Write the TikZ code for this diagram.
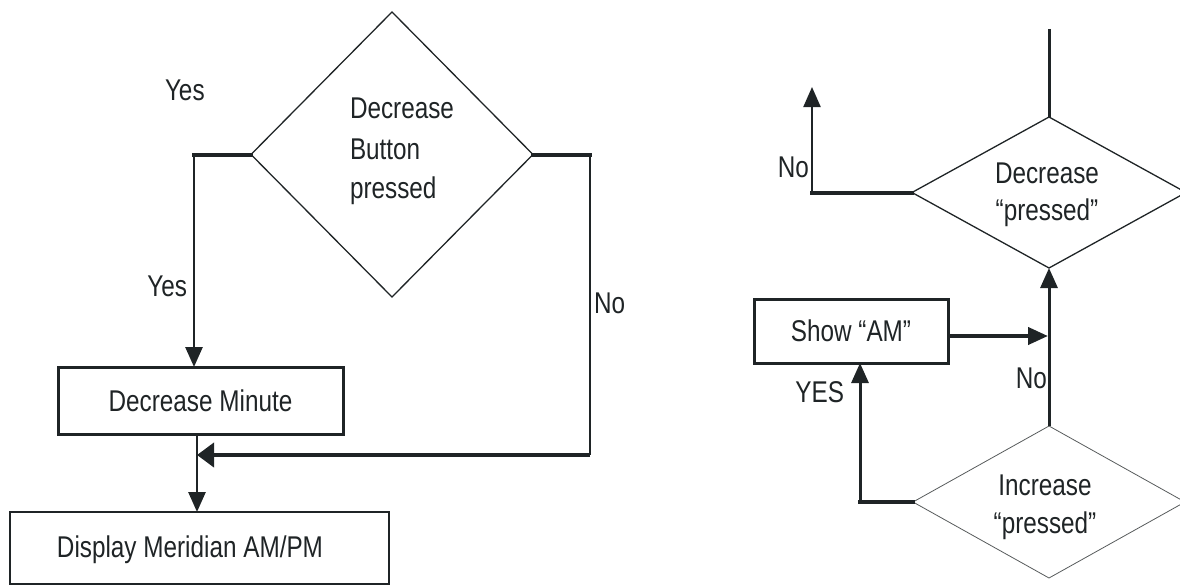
\documentclass[tikz,border=0pt]{standalone}
\usepackage{fontspec}
\setmainfont{Liberation Sans}[FakeStretch=0.81]
\usetikzlibrary{shapes.geometric,arrows.meta}
\definecolor{ink}{RGB}{31,36,38}
\begin{document}
\begin{tikzpicture}[x=1pt,y=-1pt,
  font=\fontsize{30}{38}\selectfont,
  dec/.style={draw=ink, shape=diamond, inner sep=0pt, outer sep=0pt, line width=1.3pt},
  box/.style={draw=ink, rectangle, inner sep=0pt, outer sep=0pt, line width=3pt, text=ink},
  lbl/.style={inner sep=0pt, outer sep=0pt, text=ink},
  conn/.style={draw=ink, line width=2.7pt},
  heavy/.style={draw=ink, line width=4pt},
  tip/.style={-{Triangle[length=20pt,width=17pt]}},
  widetip/.style={-{Triangle[length=17pt,width=24pt]}}]
\useasboundingbox (0,0) rectangle (1180,586);
\clip (0,0) rectangle (1180,586);

% ---- left part ----
\node[dec, minimum width=282pt, minimum height=285pt] (d1) at (392,154.5) {};
\node[lbl, anchor=base west] (d1a) at (350,118) {Decrease};
\node[lbl, anchor=base west] (d1b) at (350,159) {Button};
\node[lbl, anchor=base west] (d1c) at (350,198) {pressed};

\node[box, minimum width=285pt, minimum height=67pt] (dm) at (200.5,400.5) {Decrease Minute};
\node[box, line width=2.3pt, minimum width=379pt, minimum height=72pt] (disp) at (199.5,548) {};
\node[lbl, anchor=base] (dtext) at (190,557) {Display Meridian AM/PM};

\coordinate (ya) at (194,154.5);
\coordinate (mg) at (197,455);
\coordinate (nr) at (590,154.5);

\draw[heavy, line cap=rect] (d1.west) -- (ya);
\draw[conn, tip] (ya) -- (ya |- dm.north);
\draw[conn, tip] (mg |- dm.south) -- (mg |- disp.north);
\draw[heavy, line cap=rect] (d1.east) -- (nr);
\draw[conn] (nr) -- (nr |- mg);
\draw[heavy, widetip] (nr |- mg) -- (mg);

\node[lbl, anchor=base west] (y1) at (165,100) {Yes};
\node[lbl, anchor=base east] (y2) at (187,296) {Yes};
\node[lbl, anchor=base west] (n1) at (594,313) {No};

% ---- right part ----
\node[dec, minimum width=274pt, minimum height=151pt] (d2) at (1049,192.5) {};
\node[lbl, anchor=base] (d2a) at (1047,183) {Decrease};
\node[lbl, anchor=base] (d2b) at (1047,220) {“pressed”};

\node[dec, draw=ink!75, line width=0.8pt, minimum width=272pt, minimum height=152pt] (d3) at (1049,502) {};
\node[lbl, anchor=base] (d3a) at (1045,495) {Increase};
\node[lbl, anchor=base] (d3b) at (1045,533) {“pressed”};

\node[box, minimum width=194pt, minimum height=64pt] (show) at (851,331) {Show “AM”};

\coordinate (topend) at (1049,29);
\coordinate (nl) at (812,87);
\coordinate (j) at (1048,336);
\coordinate (yl) at (860,502);

\draw[conn, line width=3pt] (topend) -- (d2.north);
\draw[heavy, line cap=rect] (d2.west) -- (nl |- d2.west);
\draw[conn, line width=2.2pt, tip] (nl |- d2.west) -- (nl);
\draw[conn, line width=3pt, tip] (d3.north) -- (d2.south);
\draw[heavy, tip] (j -| show.east) -- (j);
\draw[heavy, line cap=rect] (d3.west) -- (yl);
\draw[conn, line width=3pt, tip] (yl) -- (yl |- show.south);

\node[lbl, anchor=base east] (n2) at (809,177) {No};
\node[lbl, anchor=base east] (n3) at (1047,388) {No};
\node[lbl, anchor=base east] (ys) at (844,402) {YES};
\end{tikzpicture}
\end{document}
